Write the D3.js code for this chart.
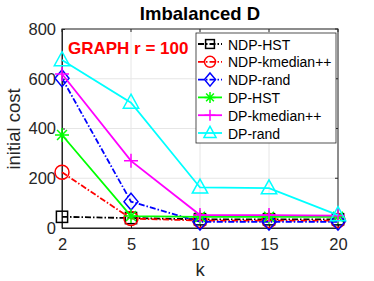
<!DOCTYPE html>
<html>
<head>
<meta charset="utf-8">
<script src="https://cdn.jsdelivr.net/npm/d3@7"></script>
<style>
  body { margin: 0; background: #fff; }
  svg { font-family: "Liberation Sans", Arial, sans-serif; }
</style>
</head>
<body>
<div id="chart"></div>
<script>
const kValues = ['2', '5', '10', '15', '20'];
const yTicks = [0, 200, 400, 600, 800];

const ndpHst = [45, 40, 35, 35, 35];
const ndpKmedian = [224, 38, 30, 30, 30];
const ndpRand = [602, 106, 25, 25, 25];
const dpHst = [374, 48, 45, 45, 45];
const dpKmedian = [619, 270, 52, 52, 50];
const dpRand = [675, 504, 163, 160, 52];

const series = [
  {name: 'NDP-HST', values: ndpHst, color: '#000000', dash: '6,2,1.5,2', marker: 'square'},
  {name: 'NDP-kmedian++', values: ndpKmedian, color: '#ff0000', dash: '6,2,1.5,2', marker: 'circle'},
  {name: 'NDP-rand', values: ndpRand, color: '#0000ff', dash: '6,2,1.5,2', marker: 'diamond'},
  {name: 'DP-HST', values: dpHst, color: '#00ff00', dash: null, marker: 'star'},
  {name: 'DP-kmedian++', values: dpKmedian, color: '#ff00ff', dash: null, marker: 'plus'},
  {name: 'DP-rand', values: dpRand, color: '#00ffff', dash: null, marker: 'triangle'}
];

const W = 374, H = 281;
const margin = {top: 29, right: 36, bottom: 53, left: 62};
const width = W - margin.left - margin.right;
const height = H - margin.top - margin.bottom;

const svg = d3.select('#chart').append('svg')
  .attr('width', W).attr('height', H);

const g = svg.append('g')
  .attr('transform', `translate(${margin.left},${margin.top})`);

const x = d3.scalePoint().domain(kValues).range([0, width]);
const y = d3.scaleLinear().domain([0, 800]).range([height, 0]);

// grid
g.selectAll('.gx').data(kValues).enter().append('line')
  .attr('x1', d => x(d)).attr('x2', d => x(d))
  .attr('y1', 0).attr('y2', height)
  .attr('stroke', '#e6e6e6').attr('stroke-width', 1);
g.selectAll('.gy').data(yTicks).enter().append('line')
  .attr('x1', 0).attr('x2', width)
  .attr('y1', d => y(d)).attr('y2', d => y(d))
  .attr('stroke', '#e6e6e6').attr('stroke-width', 1);

// axes
const xAxis = g.append('g')
  .attr('transform', `translate(0,${height})`)
  .call(d3.axisBottom(x).tickSizeInner(-3).tickSizeOuter(0).tickPadding(10));
const yAxis = g.append('g')
  .call(d3.axisLeft(y).tickValues(yTicks).tickSizeInner(-3).tickSizeOuter(0).tickPadding(6));
[xAxis, yAxis].forEach(a => {
  a.select('.domain').attr('stroke', '#262626');
  a.selectAll('.tick line').attr('stroke', '#262626');
  a.selectAll('.tick text').attr('fill', '#262626').style('font-size', '16.5px');
});
// top and right tick marks
g.selectAll('.tt').data(kValues).enter().append('line')
  .attr('x1', d => x(d)).attr('x2', d => x(d))
  .attr('y1', 0).attr('y2', 3).attr('stroke', '#262626');
g.selectAll('.tr').data(yTicks).enter().append('line')
  .attr('x1', width - 3).attr('x2', width)
  .attr('y1', d => y(d)).attr('y2', d => y(d)).attr('stroke', '#262626');
g.append('rect')
  .attr('width', width).attr('height', height)
  .attr('fill', 'none').attr('stroke', '#262626').attr('stroke-width', 1);

// markers
function drawMarker(sel, type, color, s) {
  s = s || 7;
  if (type === 'square') {
    sel.append('rect').attr('x', -s * 0.8).attr('y', -s * 0.8)
      .attr('width', s * 1.6).attr('height', s * 1.6)
      .attr('fill', 'none').attr('stroke', color).attr('stroke-width', 1.5);
  } else if (type === 'circle') {
    sel.append('circle').attr('r', s)
      .attr('fill', 'none').attr('stroke', color).attr('stroke-width', 1.5);
  } else if (type === 'diamond') {
    sel.append('path').attr('d', `M0,${-s * 1.2}L${s},0L0,${s * 1.2}L${-s},0Z`)
      .attr('fill', 'none').attr('stroke', color).attr('stroke-width', 1.5);
  } else if (type === 'star') {
    const r = s;
    const d = [0, 45, 90, 135].map(a => {
      const rad = a * Math.PI / 180;
      return `M${-r * Math.cos(rad)},${-r * Math.sin(rad)}L${r * Math.cos(rad)},${r * Math.sin(rad)}`;
    }).join('');
    sel.append('path').attr('d', d).attr('stroke', color).attr('stroke-width', 1.5);
  } else if (type === 'plus') {
    sel.append('path').attr('d', `M${-s},0L${s},0M0,${-s}L0,${s}`)
      .attr('stroke', color).attr('stroke-width', 1.5);
  } else if (type === 'triangle') {
    sel.append('path').attr('d', `M0,${-s * 1.2}L${s * 1.1},${s * 0.8}L${-s * 1.1},${s * 0.8}Z`)
      .attr('fill', 'none').attr('stroke', color).attr('stroke-width', 1.5);
  }
}

const line = d3.line().x((d, i) => x(kValues[i])).y(d => y(d));

series.forEach(s => {
  g.append('path')
    .datum(s.values)
    .attr('fill', 'none')
    .attr('stroke', s.color)
    .attr('stroke-width', 1.8)
    .attr('stroke-dasharray', s.dash)
    .attr('d', line);
  s.values.forEach((v, i) => {
    const m = g.append('g').attr('transform', `translate(${x(kValues[i])},${y(v)})`);
    drawMarker(m, s.marker, s.color);
  });
});

// title and labels
svg.append('text')
  .attr('x', margin.left + width / 2).attr('y', 20)
  .attr('text-anchor', 'middle')
  .style('font-size', '18.5px').style('font-weight', 'bold')
  .text('Imbalanced D');
svg.append('text')
  .attr('x', margin.left + width / 2).attr('y', 276)
  .attr('text-anchor', 'middle')
  .attr('fill', '#262626')
  .style('font-size', '18.5px')
  .text('k');
svg.append('text')
  .attr('transform', `translate(20,${margin.top + 100}) rotate(-90)`)
  .attr('text-anchor', 'middle')
  .attr('fill', '#262626')
  .style('font-size', '18.5px')
  .text('initial cost');
g.append('text')
  .attr('x', 6).attr('y', 25)
  .attr('fill', '#ff0000')
  .style('font-size', '17px').style('font-weight', 'bold')
  .text('GRAPH r = 100');

// legend
const lg = svg.append('g').attr('transform', 'translate(196,33)');
lg.append('rect')
  .attr('width', 140).attr('height', 110)
  .attr('fill', '#fff').attr('stroke', '#262626').attr('stroke-width', 0.8);
series.forEach((s, i) => {
  const row = lg.append('g').attr('transform', `translate(0,${11 + i * 17.8})`);
  row.append('line')
    .attr('x1', 2).attr('x2', 26)
    .attr('stroke', s.color).attr('stroke-width', 1.8)
    .attr('stroke-dasharray', s.dash);
  const m = row.append('g').attr('transform', 'translate(14,0)');
  drawMarker(m, s.marker, s.color, 5.5);
  row.append('text')
    .attr('x', 32).attr('y', 5.5)
    .style('font-size', '14px')
    .text(s.name);
});
</script>
</body>
</html>
